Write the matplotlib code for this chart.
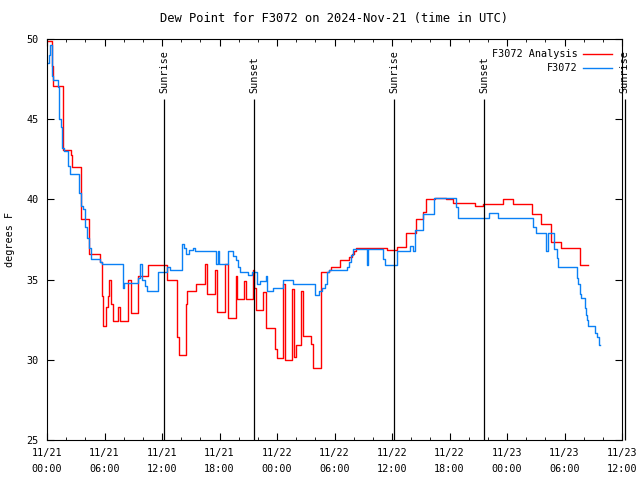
import matplotlib
matplotlib.use("Agg")
import matplotlib.pyplot as plt
from matplotlib.ticker import MultipleLocator

# hours since 11/21 00:00 UTC
red_hours = [0.0, 0.52, 0.66, 1.64, 2.47, 2.64, 3.50, 4.42, 5.58, 5.74, 5.85, 6.16,
             6.32, 6.47, 6.68, 6.86, 7.46, 7.62, 8.49, 8.72, 9.53, 10.57, 12.56,
             13.60, 13.81, 14.51, 14.58, 15.55, 16.49, 16.70, 17.54, 17.75, 18.58,
             18.86, 19.73, 19.83, 20.56, 20.77, 21.47, 21.64, 21.82, 22.58, 22.86,
             23.80, 23.98, 24.67, 24.84, 25.57, 25.73, 25.99, 26.48, 26.72, 27.53,
             27.77, 28.55, 29.47, 29.61, 30.58, 31.56, 31.78, 32.05, 32.25, 35.52,
             36.50, 37.47, 38.52, 39.22, 39.56, 40.50, 41.65, 42.35, 44.68, 45.51,
             47.57, 48.61, 50.60, 51.57, 52.61, 53.65, 55.64, 56.50]
red_vals = [49.9, 48.3, 47.1, 43.1, 42.75, 42.0, 38.8, 36.6, 36.1, 34.0, 32.1, 33.3,
            34.0, 35.0, 33.5, 32.4, 33.3, 32.4, 35.0, 32.9, 35.2, 35.9, 35.0,
            31.4, 30.3, 33.5, 34.3, 34.7, 36.0, 34.1, 35.6, 33.0, 36.0,
            32.6, 35.2, 33.8, 34.9, 33.8, 35.6, 34.5, 33.1, 34.2, 32.0,
            30.7, 30.1, 34.7, 30.0, 34.4, 30.2, 30.9, 34.3, 31.5, 31.0,
            29.5, 35.5, 35.6, 35.8, 36.2, 36.4, 36.6, 36.8, 37.0, 36.85,
            37.04, 37.9, 38.8, 39.2, 40.0, 40.1, 40.0, 39.75, 39.6, 39.7,
            40.04, 39.69, 39.1, 38.44, 37.33, 36.98, 35.94, 35.94]

blue_hours = [0.0, 0.21, 0.31, 0.47, 0.63, 1.18, 1.30, 1.46, 1.57, 1.77, 2.19, 2.40,
              3.37, 3.55, 3.76, 3.97, 4.18, 4.38, 4.56, 5.58, 5.74, 7.93, 8.07, 9.50,
              9.71, 9.92, 10.23, 10.47, 11.62, 12.56, 12.84, 14.04, 14.30, 14.51,
              14.82, 15.27, 15.45, 17.64, 17.80, 17.99, 18.92, 19.42, 19.73, 19.94,
              20.15, 21.01, 21.37, 21.89, 22.23, 22.86, 22.96, 23.62, 24.67, 25.71,
              27.97, 28.42, 28.67, 29.02, 29.23, 29.47, 31.28, 31.47, 31.68, 31.91,
              33.37, 33.54, 35.10, 35.28, 36.50, 37.89, 38.20, 38.41, 39.25, 40.40,
              42.69, 42.93, 46.07, 47.11, 50.76, 51.04, 52.09, 52.25, 52.92, 53.20,
              53.31, 55.32, 55.46, 55.58, 55.71, 56.13, 56.26, 56.37, 56.50, 57.20,
              57.35, 57.57, 57.66]
blue_vals = [48.5, 49.0, 49.6, 47.7, 47.45, 47.0, 45.0, 44.5, 43.2, 43.0, 42.1, 41.6,
             40.4, 39.6, 39.4, 38.3, 37.6, 37.0, 36.3, 36.1, 36.0, 34.5, 34.8, 35.1,
             36.0, 35.0, 34.6, 34.3, 35.5, 35.8, 35.6, 37.25, 37.0, 36.6,
             36.85, 37.0, 36.8, 36.0, 36.8, 36.0, 36.8, 36.5, 36.2, 35.8,
             35.5, 35.3, 35.5, 34.7, 34.9, 35.2, 34.3, 34.5, 35.0, 34.75,
             34.06, 34.3, 34.5, 34.7, 35.5, 35.6, 35.8, 36.1, 36.56, 36.9,
             35.9, 36.9, 36.3, 35.9, 36.8, 37.1, 36.8, 38.1, 39.1, 40.1,
             39.5, 38.85, 39.125, 38.85, 38.3, 37.9, 36.8, 37.9, 36.9, 36.35,
             35.8, 35.1, 34.7, 34.1, 33.85, 33.2, 32.8, 32.5, 32.1, 31.7,
             31.4, 30.9, 30.9]

sun_hours = [12.2, 21.6, 36.25, 45.65, 60.3]
sun_labels = ["Sunrise", "Sunset", "Sunrise", "Sunset", "Sunrise"]

tick_hours = [0, 6, 12, 18, 24, 30, 36, 42, 48, 54, 60]
tick_labels = ["11/21\n00:00", "11/21\n06:00", "11/21\n12:00", "11/21\n18:00",
               "11/22\n00:00", "11/22\n06:00", "11/22\n12:00", "11/22\n18:00",
               "11/23\n00:00", "11/23\n06:00", "11/23\n12:00"]

plt.rcParams['font.family'] = ['DejaVu Sans Mono']
plt.rcParams['font.size'] = 7.3

fig = plt.figure(figsize=(6.4, 4.8), dpi=100)
ax = fig.add_axes([47 / 640, 40 / 480, 575 / 640, 401 / 480])

ax.plot(red_hours, red_vals, color="#ff0000", lw=1.0, drawstyle="steps-post",
        label="F3072 Analysis")
ax.plot(blue_hours, blue_vals, color="#0a80f5", lw=1.0, drawstyle="steps-post",
        label="F3072")

# lignes lever / coucher du soleil
for h, lab in zip(sun_hours, sun_labels):
    ax.vlines(h, 25, 46.25, color="black", lw=0.9, clip_on=False)
    ax.text(h, 46.65, lab, rotation=90, ha="center", va="bottom")

ax.set_xlim(0, 60)
ax.set_ylim(25, 50)
ax.set_xticks(tick_hours)
ax.set_xticklabels(tick_labels, linespacing=1.75)
ax.xaxis.set_minor_locator(MultipleLocator(2))
ax.set_yticks(range(25, 51, 5))
ax.tick_params(which="both", direction="in", top=True, right=True)
ax.tick_params(which="major", length=5)
ax.tick_params(which="minor", length=2.5)
ax.tick_params(axis="x", pad=6)
ax.tick_params(axis="y", pad=6)

ax.set_title("Dew Point for F3072 on 2024-Nov-21 (time in UTC)", pad=12)
fig.text(10 / 640, 0.501, "degrees F", rotation=90, ha="center", va="center")

ax.legend(loc="upper right", frameon=False, markerfirst=False, handlelength=2.8,
          handletextpad=0.6, borderaxespad=0.7, borderpad=0.3, labelspacing=0.4)

fig.savefig("out.png", dpi=100)
